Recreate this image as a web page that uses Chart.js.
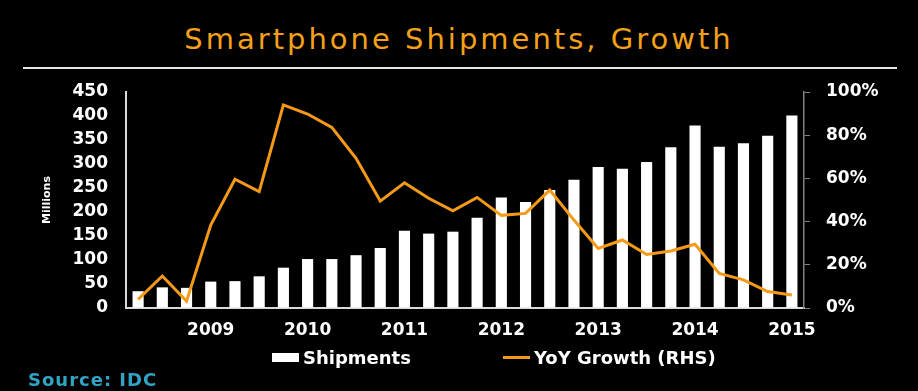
<!DOCTYPE html>
<html>
<head>
<meta charset="utf-8">
<script src="https://cdn.jsdelivr.net/npm/chart.js@4.4.1/dist/chart.umd.min.js"></script>
<style>
body { margin: 0; background: #000; }
#wrap { position: relative; width: 918px; height: 391px; overflow: hidden; background: #000; }
#title { position: absolute; top: 22px; left: 0; width: 918px; text-align: center;
         font-family: "DejaVu Sans"; font-size: 29px; letter-spacing: 3px; color: #F5A01A; }
#rule { position: absolute; top: 67px; left: 23px; width: 874px; height: 2px; background: #e6e6e6; }
#chart { position: absolute; left: 0; top: 0; }
#legend { position: absolute; top: 347px; left: 272px; display: flex; align-items: center;
          font-family: "DejaVu Sans"; font-weight: bold; font-size: 18px; color: #fff; }
#legend .item { display: flex; align-items: center; margin-right: 92px; }
#legend .swatch { margin-right: 4px; }
#source { position: absolute; left: 28px; top: 369px; font-family: "DejaVu Sans"; font-weight: bold;
          font-size: 18px; letter-spacing: 1px; color: #31A3C4; }
</style>
</head>
<body>
<div id="wrap">
  <div id="title">Smartphone Shipments, Growth</div>
  <div id="rule"></div>
  <canvas id="chart" width="918" height="391"></canvas>
  <div id="legend"></div>
  <div id="source">Source: IDC</div>
</div>
<script>
// quarterly data, 1Q09 - 4Q15
const quarters = ['1Q09','2Q09','3Q09','4Q09','1Q10','2Q10','3Q10','4Q10',
                  '1Q11','2Q11','3Q11','4Q11','1Q12','2Q12','3Q12','4Q12',
                  '1Q13','2Q13','3Q13','4Q13','1Q14','2Q14','3Q14','4Q14',
                  '1Q15','2Q15','3Q15','4Q15'];
const yearTicks = ['2009','2010','2011','2012','2013','2014','2015'];
// millions of units
const shipments = [35, 43, 42, 55, 56, 66, 84, 102, 102, 110, 125, 161, 155, 159,
                   188, 230, 221, 246, 267, 294, 290, 304, 335, 380, 336, 343, 359, 401];
// year over year growth, %
const yoyGrowth = [4.0, 14.8, 3.2, 38.4, 59.6, 53.9, 94.0, 89.8, 83.6, 69.3, 49.5, 58.0, 50.8, 45.0,
                   51.2, 42.9, 43.8, 54.6, 40.7, 27.6, 31.5, 24.8, 26.4, 29.5, 16.0, 13.0, 7.6, 6.0];

const tickFont = { family: 'DejaVu Sans', weight: 'bold', size: 17 };

const ctx = document.getElementById('chart').getContext('2d');
const chart = new Chart(ctx, {
    type: 'bar',
    data: {
        labels: quarters,
        datasets: [
            {
                label: 'Shipments',
                data: shipments,
                backgroundColor: '#ffffff',
                barPercentage: 0.46,
                categoryPercentage: 1,
                yAxisID: 'y',
                order: 2
            },
            {
                type: 'line',
                label: 'YoY Growth (RHS)',
                data: yoyGrowth,
                borderColor: '#F59A16',
                borderWidth: 3,
                pointRadius: 0,
                tension: 0,
                yAxisID: 'y1',
                order: 1
            }
        ]
    },
    options: {
        responsive: false,
        animation: false,
        layout: { padding: { top: 92, bottom: 53, left: 30, right: 0 } },
        plugins: { legend: { display: false }, tooltip: { enabled: false } },
        scales: {
            x: {
                grid: { display: false, drawTicks: false },
                border: { color: '#d9d9d9', width: 2 },
                ticks: {
                    autoSkip: false, maxRotation: 0, color: '#fff', font: tickFont, padding: 12,
                    callback: function(v, i) { return i % 4 === 3 ? yearTicks[(i - 3) / 4] : ''; }
                },
                afterFit: function(s) { s.height = 30; }
            },
            y: {
                position: 'left',
                min: 0, max: 450,
                ticks: { stepSize: 50, color: '#fff', font: tickFont, padding: 18 },
                grid: { drawOnChartArea: false, drawTicks: false },
                border: { color: '#d9d9d9', width: 2 },
                title: {
                    display: true, text: 'Millions', color: '#fff',
                    font: { family: 'DejaVu Sans', weight: 'bold', size: 11 },
                    padding: { top: 11, bottom: 0 }
                },
                afterFit: function(s) { s.width = 96; }
            },
            y1: {
                position: 'right',
                min: 0, max: 100,
                ticks: { stepSize: 20, color: '#fff', font: tickFont, padding: 16,
                         callback: function(v) { return v + '%'; } },
                grid: { drawOnChartArea: false, drawTicks: true, tickLength: 6, color: '#808080' },
                border: { color: '#808080', width: 1.5 },
                afterFit: function(s) { s.width = 114; }
            }
        }
    }
});

// html legend from the datasets
const legendEl = document.getElementById('legend');
chart.data.datasets.forEach(function(ds) {
    const item = document.createElement('div');
    item.className = 'item';
    const sw = document.createElement('span');
    sw.className = 'swatch';
    sw.style.width = '27px';
    if (ds.type === 'line') {
        sw.style.height = ds.borderWidth + 'px';
        sw.style.background = ds.borderColor;
    } else {
        sw.style.height = '9px';
        sw.style.background = ds.backgroundColor;
    }
    item.appendChild(sw);
    item.appendChild(document.createTextNode(ds.label));
    legendEl.appendChild(item);
});
</script>
</body>
</html>
